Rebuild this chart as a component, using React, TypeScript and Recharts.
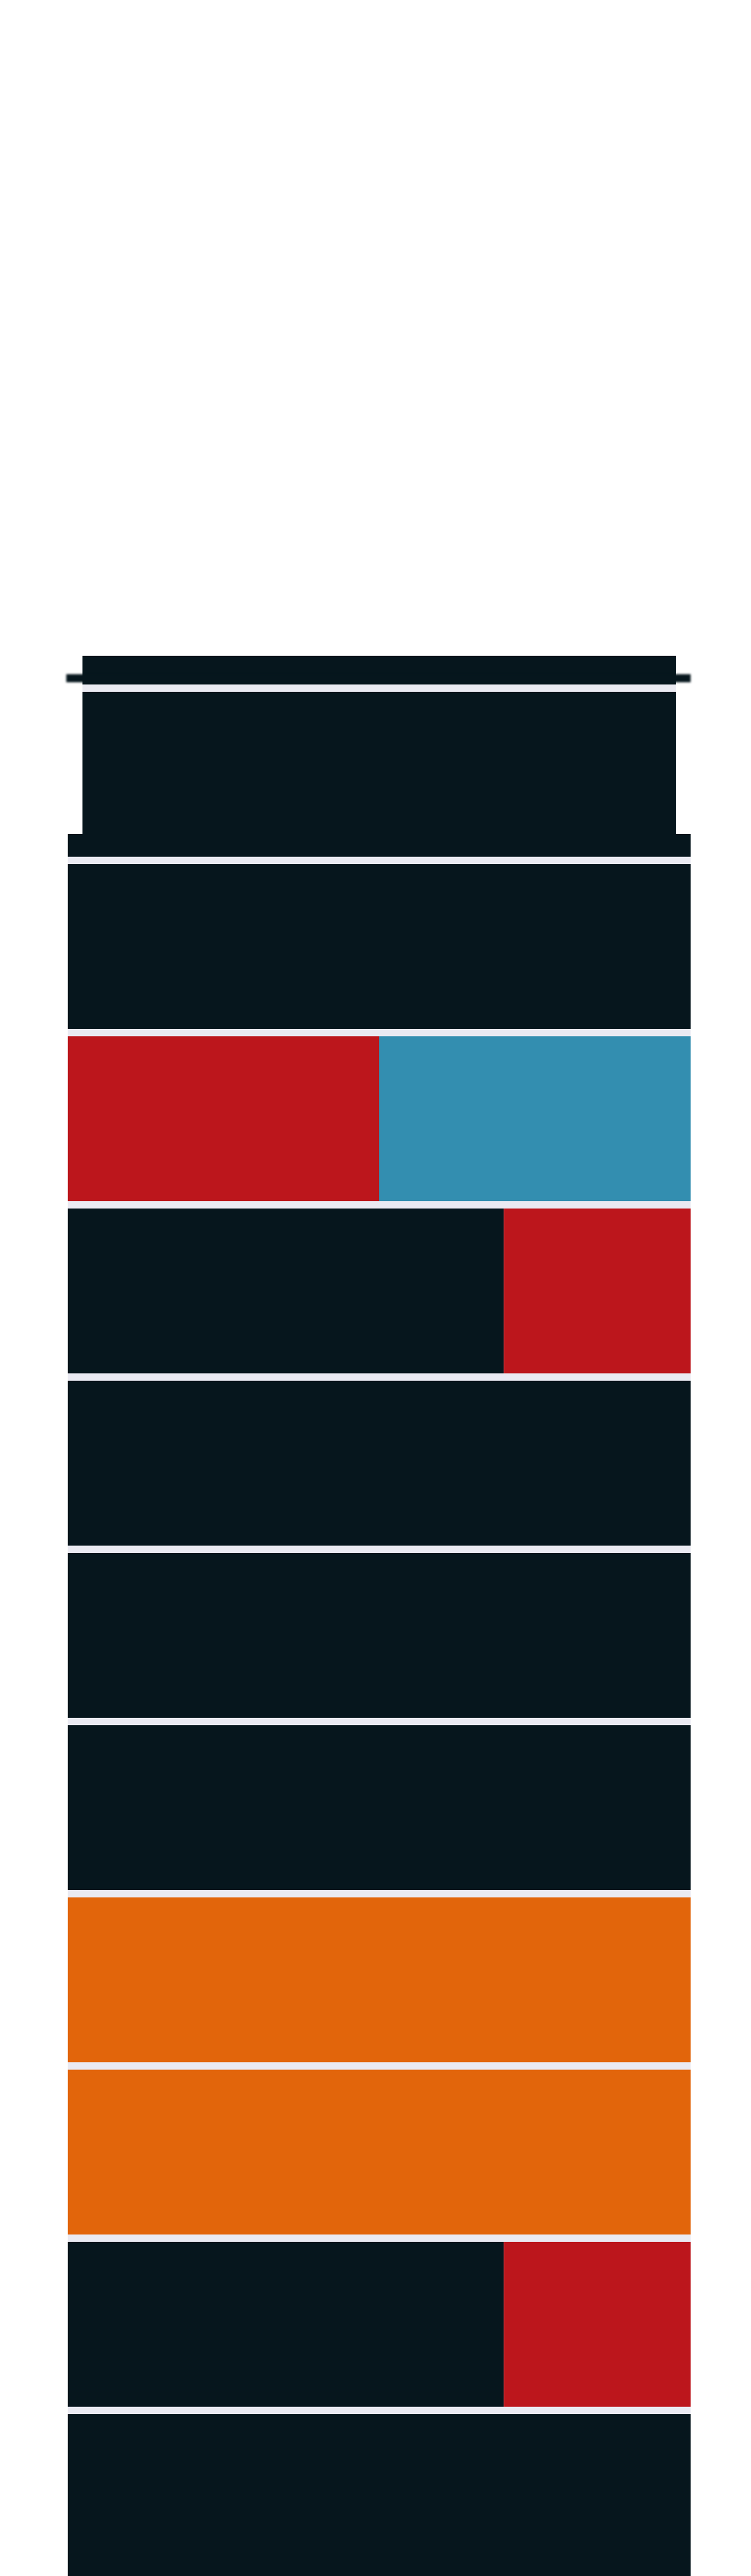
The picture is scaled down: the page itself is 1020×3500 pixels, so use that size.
import React from 'react';
import {Bar, BarChart, CartesianGrid, XAxis, YAxis} from 'recharts';

// rows from top to bottom (first and last are cut by the frame)
const ROWS = ['r1', 'r2', 'r3', 'r4', 'r5', 'r6', 'r7', 'r8', 'r9', 'r10', 'r11', 'r12'];
const DARK = [100, 100, 100, 0, 70, 100, 100, 100, 0, 0, 70, 100];
const RED = [0, 0, 0, 50, 30, 0, 0, 0, 0, 0, 30, 0];
const BLUE = [0, 0, 0, 50, 0, 0, 0, 0, 0, 0, 0, 0];
const ORANGE = [0, 0, 0, 0, 0, 0, 0, 0, 100, 100, 0, 0];

const COLORS = {
  dark: '#06161d',
  red: '#bc161c',
  blue: '#338eb0',
  orange: '#e2650b',
  panel: '#eaeaf2',
};

const ROW_H = 234;
const PLOT_H = ROWS.length * ROW_H;

const data = ROWS.map((name, i) => ({
  name,
  dark: DARK[i],
  red: RED[i],
  blue: BLUE[i],
  orange: ORANGE[i],
}));

const cover = (s: React.CSSProperties): React.CSSProperties => ({position: 'absolute', background: '#fff', ...s});

export default function App() {
  return (
    <div style={{position: 'absolute', left: 0, top: 0, width: 1020, height: 3500, overflow: 'hidden', background: '#fff'}}>
      <BarChart
        width={1020}
        height={701 + PLOT_H}
        data={data}
        layout="vertical"
        margin={{top: 701, right: 82, left: 92, bottom: 0}}
        barCategoryGap={5}
      >
        <CartesianGrid fill={COLORS.panel} horizontal={false} vertical={false} />
        <XAxis type="number" domain={[0, 100]} hide />
        <YAxis type="category" dataKey="name" hide />
        <Bar dataKey="dark" stackId="s" fill={COLORS.dark} isAnimationActive={false} />
        <Bar dataKey="red" stackId="s" fill={COLORS.red} isAnimationActive={false} />
        <Bar dataKey="blue" stackId="s" fill={COLORS.blue} isAnimationActive={false} />
        <Bar dataKey="orange" stackId="s" fill={COLORS.orange} isAnimationActive={false} />
      </BarChart>
      {/* frame: hide the top, narrow head with its thin flange */}
      <div style={cover({left: 0, top: 0, width: 1020, height: 891})} />
      <div style={cover({left: 0, top: 891, width: 112, height: 242})} />
      <div style={cover({left: 918, top: 891, width: 102, height: 242})} />
      <div style={{position: 'absolute', left: 90, top: 916, width: 848, height: 11, background: COLORS.dark, filter: 'blur(1.5px)'}} />
    </div>
  );
}
